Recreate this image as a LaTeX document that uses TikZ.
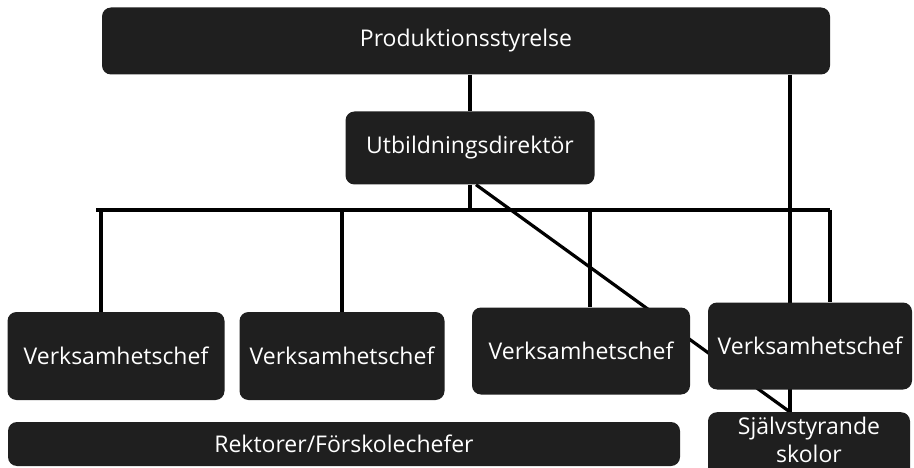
\documentclass[tikz,border=0pt]{standalone}
\usepackage{fontspec}
\setmainfont{Open Sans}
\usetikzlibrary{positioning, backgrounds}

\tikzset{
  orgbox/.style={fill=black!88, text=white, rounded corners=9pt, inner sep=0pt,
    align=center, font=\fontsize{23}{28}\selectfont},
  link/.style={draw=black, line width=3.2pt}
}

\begin{document}
\begin{tikzpicture}[x=1pt, y=-1pt]
\useasboundingbox (0,0) rectangle (914,468);

% ledning
\node[orgbox, minimum width=728pt, minimum height=67pt] (prod) at (466,41) {Produktionsstyrelse};
\node[orgbox, minimum width=249pt, minimum height=73pt] (utb) at (470,148) {Utbildningsdirektör};

% verksamheter
\node[orgbox, minimum width=217pt, minimum height=88pt] (vc1) at (116,356) {Verksamhetschef};
\node[orgbox, minimum width=205pt, minimum height=88pt] (vc2) at (342,356) {Verksamhetschef};
\node[orgbox, minimum width=218pt, minimum height=87pt] (vc3) at (581,351) {Verksamhetschef};
\node[orgbox, minimum width=204pt, minimum height=87pt] (vc4) at (810,346) {Verksamhetschef};

% skolor
\node[orgbox, minimum width=672pt, minimum height=44pt] (rekt) at (344,444) {Rektorer/Förskolechefer};
\node[orgbox, minimum width=202pt, inner ysep=5pt, text depth=22pt, anchor=north] (sjalv) at (809,412) {Självstyrande\\skolor};

\begin{scope}[on background layer]
  \coordinate (barL) at (96,210);
  \coordinate (barR) at (830,210);
  \coordinate (sjtop) at (790,412);
  \foreach \x [count=\i] in {101,342,590,830}
    \coordinate (t\i) at (\x,210);
  \draw[link] (utb |- prod.south) -- (utb);
  \draw[link] (utb) -- (utb |- barL);
  \draw[link] (barL) -- (barR);
  \foreach \i in {1,...,4}
    \draw[link] (t\i) -- (t\i |- vc\i.north);
  \draw[link] (sjtop |- prod.south) -- (sjtop);
  \draw[link] ([xshift=6pt]utb.south) -- (sjtop);
\end{scope}
\end{tikzpicture}
\end{document}
